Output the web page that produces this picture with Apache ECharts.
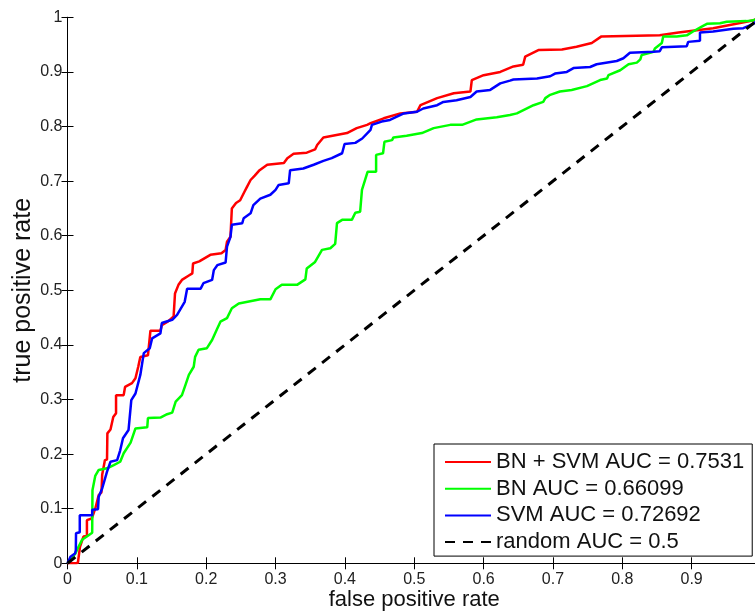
<!DOCTYPE html>
<html>
<head>
<meta charset="utf-8">
<script src="https://cdn.jsdelivr.net/npm/echarts@6/dist/echarts.min.js"></script>
<style>
html,body{margin:0;padding:0;background:#fff;}
#chart{width:755px;height:611px;}
</style>
</head>
<body>
<div id="chart"></div>
<script>
// ---- data ----
var seriesNames = ['BN + SVM AUC = 0.7531', 'BN AUC = 0.66099', 'SVM AUC = 0.72692', 'random AUC = 0.5'];
var xTickLabels = ['0','0.1','0.2','0.3','0.4','0.5','0.6','0.7','0.8','0.9','1'];
var yTickLabels = ['0','0.1','0.2','0.3','0.4','0.5','0.6','0.7','0.8','0.9','1'];
var xTitle = 'false positive rate';
var yTitle = 'true positive rate';

var bnSvmRoc = [[0,0],[0.012,0],[0.015,0.001],[0.018,0.03],[0.023,0.049],[0.028,0.05],[0.028,0.079],[0.035,0.082],[0.040,0.10],[0.045,0.125],[0.049,0.13],[0.050,0.162],[0.054,0.189],[0.057,0.19],[0.0575,0.238],[0.062,0.245],[0.066,0.268],[0.070,0.275],[0.070,0.308],[0.081,0.308],[0.083,0.323],[0.093,0.33],[0.098,0.339],[0.102,0.36],[0.105,0.378],[0.116,0.381],[0.1196,0.426],[0.134,0.426],[0.136,0.436],[0.145,0.443],[0.153,0.452],[0.155,0.494],[0.16,0.51],[0.165,0.519],[0.175,0.527],[0.18,0.531],[0.181,0.549],[0.19,0.553],[0.206,0.565],[0.222,0.568],[0.228,0.574],[0.230,0.589],[0.235,0.598],[0.237,0.650],[0.243,0.66],[0.249,0.665],[0.255,0.68],[0.259,0.690],[0.264,0.702],[0.270,0.71],[0.277,0.720],[0.288,0.730],[0.312,0.733],[0.317,0.742],[0.326,0.750],[0.345,0.752],[0.357,0.758],[0.36,0.766],[0.369,0.780],[0.386,0.784],[0.403,0.788],[0.417,0.797],[0.432,0.803],[0.437,0.806],[0.456,0.815],[0.480,0.824],[0.504,0.827],[0.509,0.839],[0.533,0.852],[0.557,0.861],[0.581,0.864],[0.583,0.885],[0.600,0.894],[0.624,0.900],[0.643,0.910],[0.657,0.913],[0.660,0.928],[0.679,0.940],[0.713,0.941],[0.734,0.946],[0.756,0.953],[0.770,0.965],[0.854,0.967],[0.881,0.972],[0.931,0.980],[0.979,0.992],[0.988,0.994],[1,1]];

var bnRoc = [[0,0],[0.0115,0.018],[0.015,0.028],[0.021,0.043],[0.031,0.052],[0.0356,0.056],[0.036,0.134],[0.040,0.160],[0.045,0.171],[0.057,0.174],[0.0667,0.180],[0.076,0.186],[0.081,0.2015],[0.091,0.221],[0.098,0.247],[0.115,0.249],[0.116,0.266],[0.134,0.267],[0.1436,0.273],[0.151,0.276],[0.156,0.296],[0.165,0.308],[0.170,0.3265],[0.175,0.345],[0.182,0.360],[0.184,0.378],[0.189,0.391],[0.201,0.394],[0.2085,0.409],[0.216,0.430],[0.2205,0.4425],[0.230,0.449],[0.237,0.467],[0.247,0.476],[0.278,0.4835],[0.2925,0.4835],[0.300,0.502],[0.309,0.510],[0.331,0.510],[0.343,0.520],[0.345,0.540],[0.357,0.552],[0.367,0.574],[0.379,0.577],[0.386,0.585],[0.3886,0.623],[0.396,0.629],[0.410,0.629],[0.415,0.642],[0.422,0.644],[0.4246,0.684],[0.429,0.702],[0.4327,0.717],[0.445,0.717],[0.445,0.748],[0.455,0.751],[0.457,0.772],[0.468,0.775],[0.470,0.780],[0.489,0.783],[0.511,0.788],[0.528,0.797],[0.552,0.803],[0.569,0.803],[0.590,0.813],[0.619,0.817],[0.638,0.821],[0.648,0.824],[0.672,0.839],[0.686,0.845],[0.689,0.852],[0.696,0.858],[0.710,0.864],[0.727,0.867],[0.749,0.874],[0.768,0.885],[0.778,0.888],[0.780,0.894],[0.797,0.903],[0.809,0.914],[0.821,0.917],[0.826,0.923],[0.828,0.931],[0.845,0.937],[0.847,0.943],[0.857,0.953],[0.859,0.965],[0.8785,0.965],[0.893,0.967],[0.902,0.974],[0.9145,0.983],[0.922,0.988],[0.941,0.989],[0.9505,0.992],[0.979,0.993],[0.9875,0.994],[1,1]];

var svmRoc = [[0,0],[0.0043,0.012],[0.0108,0.018],[0.012,0.024],[0.0123,0.055],[0.0177,0.057],[0.0177,0.088],[0.0356,0.088],[0.0356,0.098],[0.044,0.099],[0.045,0.122],[0.050,0.137],[0.057,0.168],[0.062,0.186],[0.0716,0.189],[0.076,0.207],[0.080,0.229],[0.088,0.244],[0.092,0.299],[0.098,0.311],[0.105,0.345],[0.110,0.385],[0.1186,0.394],[0.122,0.412],[0.134,0.421],[0.136,0.440],[0.151,0.446],[0.158,0.455],[0.169,0.479],[0.1725,0.503],[0.192,0.503],[0.196,0.513],[0.2085,0.519],[0.211,0.537],[0.216,0.546],[0.228,0.551],[0.230,0.580],[0.235,0.598],[0.237,0.620],[0.252,0.623],[0.254,0.632],[0.264,0.641],[0.268,0.656],[0.278,0.668],[0.2925,0.675],[0.300,0.684],[0.3045,0.693],[0.319,0.696],[0.321,0.720],[0.340,0.723],[0.355,0.730],[0.369,0.737],[0.381,0.742],[0.396,0.751],[0.3995,0.768],[0.415,0.770],[0.425,0.778],[0.437,0.794],[0.439,0.803],[0.453,0.809],[0.465,0.812],[0.485,0.824],[0.504,0.827],[0.513,0.833],[0.533,0.839],[0.542,0.845],[0.561,0.848],[0.581,0.854],[0.590,0.864],[0.6095,0.867],[0.624,0.879],[0.638,0.884],[0.643,0.886],[0.677,0.888],[0.696,0.892],[0.703,0.897],[0.720,0.900],[0.7296,0.907],[0.7536,0.909],[0.763,0.914],[0.792,0.920],[0.8016,0.925],[0.811,0.935],[0.845,0.937],[0.854,0.938],[0.857,0.945],[0.893,0.947],[0.895,0.955],[0.912,0.957],[0.912,0.972],[0.931,0.974],[0.960,0.979],[0.9745,0.980],[0.989,0.988],[1,1]];

var randomRoc = [[0,0],[1,1]];

// ---- chart ----
var FONT = '"Liberation Sans", Arial, Helvetica, sans-serif';
var chart = echarts.init(document.getElementById('chart'), null, {renderer:'canvas'});

function tickFmt(labels){
  return function(v){ var i = Math.round(v*10); return labels[i] !== undefined ? labels[i] : ''; };
}
var tickStyle = {show:true, inside:true, length:6, lineStyle:{color:'#000', width:1}};
var lineAx = {show:true, lineStyle:{color:'#000', width:1}};

var option = {
  animation:false,
  backgroundColor:'#fff',
  grid:{left:67.5, top:17.3, width:693.5, height:546, containLabel:false, outerBoundsMode:'none'},
  xAxis:[
    {type:'value', min:0, max:1, interval:0.1, position:'bottom',
     axisLine:lineAx, axisTick:tickStyle, splitLine:{show:false},
     axisLabel:{formatter:tickFmt(xTickLabels), fontSize:16, color:'#222', fontFamily:FONT, margin:8},
     name:xTitle, nameLocation:'middle', nameGap:26, nameMoveOverlap:false,
     nameTextStyle:{fontSize:22, color:'#111', fontFamily:FONT}},
    {type:'value', min:0, max:1, interval:0.1, position:'top',
     axisLine:lineAx, axisTick:tickStyle, splitLine:{show:false}, axisLabel:{show:false}}
  ],
  yAxis:[
    {type:'value', min:0, max:1, interval:0.1, position:'left',
     axisLine:lineAx, axisTick:tickStyle, splitLine:{show:false},
     axisLabel:{formatter:tickFmt(yTickLabels), fontSize:16, color:'#222', fontFamily:FONT, margin:5},
     name:yTitle, nameLocation:'middle', nameGap:32, nameMoveOverlap:false,
     nameTextStyle:{fontSize:25, color:'#111', fontFamily:FONT}},
    {type:'value', min:0, max:1, interval:0.1, position:'right',
     axisLine:lineAx, axisTick:tickStyle, splitLine:{show:false}, axisLabel:{show:false}}
  ],
  legend:{
    show:true, orient:'vertical', left:434, top:444,
    backgroundColor:'#fff', borderColor:'#000', borderWidth:1,
    padding:[7,8,3,10], itemWidth:46, itemHeight:22, itemGap:4.7,
    itemStyle:{opacity:0},
    textStyle:{fontSize:22, color:'#111', fontFamily:FONT, lineHeight:22},
    data:seriesNames
  },
  series:[
    {name:seriesNames[0], type:'line', data:bnSvmRoc, symbol:'none', showSymbol:false,
     lineStyle:{color:'#ff0000', width:2.5}, itemStyle:{color:'#ff0000', opacity:0}, z:2},
    {name:seriesNames[1], type:'line', data:bnRoc, symbol:'none', showSymbol:false,
     lineStyle:{color:'#00ff00', width:2.5}, itemStyle:{color:'#00ff00', opacity:0}, z:3},
    {name:seriesNames[2], type:'line', data:svmRoc, symbol:'none', showSymbol:false,
     lineStyle:{color:'#0000ff', width:2.5}, itemStyle:{color:'#0000ff', opacity:0}, z:4},
    {name:seriesNames[3], type:'line', data:randomRoc, symbol:'none', showSymbol:false,
     lineStyle:{color:'#000', width:3, type:[10,8]}, itemStyle:{color:'#000', opacity:0}, z:5}
  ]
};
chart.setOption(option);
</script>
</body>
</html>
